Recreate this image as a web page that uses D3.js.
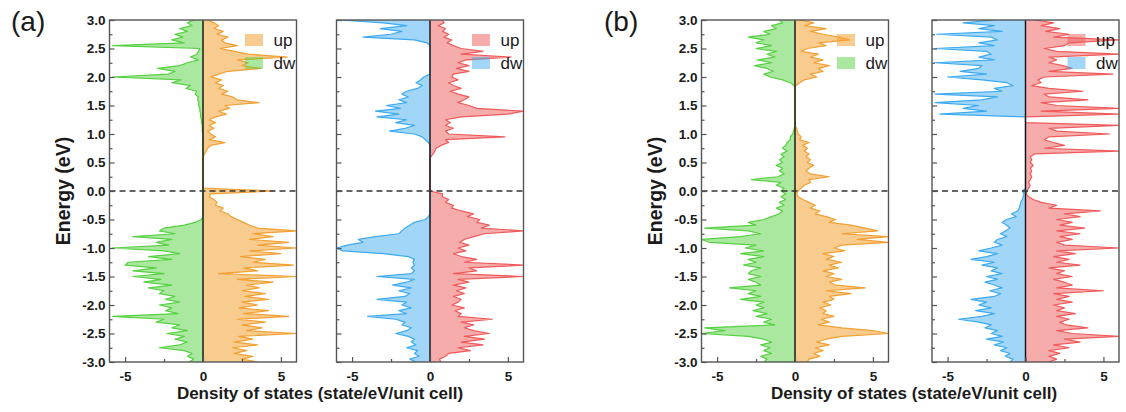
<!DOCTYPE html>
<html>
<head>
<meta charset="utf-8">
<script src="https://cdn.jsdelivr.net/npm/d3@7"></script>
<style>
  body { margin: 0; background: #fff; }
  svg { display: block; }
  text { font-family: "Liberation Sans", Arial, sans-serif; fill: #1a1a1a; }
</style>
</head>
<body>
<svg id="chart" width="1126" height="412"></svg>
<script>
// Energy grid (eV), top of the window to the bottom, 0.05 eV step
const energy = d3.range(0, 121).map(i => +(3 - 0.05 * i).toFixed(2));

// (a) left panel: spin up / spin down DOS
const aLeftUp = [
  0.3,0.7,1.0,0.7,1.3,0.9,1.6,1.2,1.4,2.2,
  1.1,2.0,2.9,5.4,2.2,2.9,2.5,3.7,1.6,1.0,
  0.5,1.2,0.8,1.3,1.0,1.6,1.2,1.9,2.2,3.6,
  1.4,1.7,1.0,1.5,0.8,0.4,0.8,0.4,0.7,0.3,
  0.5,0.8,0.4,1.4,0.5,0.3,0.2,0.1,0,0,
  0,0,0,0,0,0,0,0,0,0,
  4.5,0.5,0.4,0.7,0.9,0.8,1.3,1.1,1.6,1.8,
  2.2,2.6,3.0,3.5,6.0,3.2,4.5,3.0,5.5,3.5,
  6.0,3.0,5.0,2.4,4.0,3.2,5.8,2.6,3.5,1.0,
  6.0,2.2,4.5,2.8,3.6,2.5,4.0,2.7,4.2,2.5,
  3.5,2.3,4.2,2.6,5.5,2.2,4.0,2.5,3.8,2.8,
  6.0,2.3,3.2,2.0,3.5,1.9,2.8,2.0,3.2,2.5,3.5
];
const aLeftDw = [
  -0.6,-1.0,-0.7,-1.5,-1.0,-1.8,-1.3,-2.0,-1.2,-5.8,
  -0.2,-0.3,-0.4,-0.8,-0.3,-1.0,-1.5,-2.9,-1.8,-2.2,
  -5.8,-1.4,-2.0,-0.8,-1.1,-0.4,-0.5,-0.3,-0.35,-0.25,
  -0.3,-0.2,-0.2,-0.15,-0.15,-0.1,-0.1,-0.05,-0.05,-0.05,
  0,0,0,0,0,0,0,0,0,0,
  0,0,0,0,0,0,0,0,0,0,
  0,0,0,0,0,0,0,0,0,0,
  -0.1,-0.5,-1.2,-2.5,-2.8,-1.8,-4.5,-2.0,-3.0,-2.2,
  -5.8,-2.5,-1.5,-3.5,-2.0,-4.8,-5.0,-3.0,-4.5,-2.5,
  -4.5,-2.7,-3.8,-2.0,-3.5,-2.5,-2.8,-1.8,-2.4,-1.5,
  -2.8,-2.0,-2.4,-1.6,-5.8,-2.5,-3.0,-1.5,-2.0,-1.0,
  -2.3,-1.2,-1.8,-1.0,-1.5,-2.8,-1.2,-0.7,-1.0,-0.6,-0.9
];

// (a) right panel
const aRightUp = [
  0.8,0.9,0.5,1.0,0.8,1.2,0.9,1.4,1.1,1.5,
  2.0,3.4,2.0,5.2,2.3,1.8,2.5,1.7,2.5,1.5,
  1.4,1.8,1.2,1.5,2.0,1.3,1.8,2.5,2.2,1.8,
  2.5,3.0,6.0,5.0,2.0,1.0,1.3,1.0,1.5,1.0,
  1.2,4.8,1.0,1.2,0.7,0.4,0.3,0.2,0.05,0,
  0,0,0,0,0,0,0,0,0,0,
  0,0.8,0.8,1.2,1.0,1.5,1.4,2.0,2.8,2.4,
  3.2,3.0,3.8,3.3,6.0,3.5,2.8,2.2,1.9,2.5,
  1.8,2.3,1.5,2.0,3.0,2.2,6.0,2.5,3.0,1.5,
  6.0,1.8,2.5,1.5,2.3,1.7,2.2,1.5,2.0,1.8,
  1.4,2.2,1.6,2.0,1.8,4.0,2.0,2.8,2.2,2.8,
  3.8,2.2,3.5,2.0,3.4,1.8,2.6,1.2,1.0,0.6,0.7
];
const aRightDw = [
  -5.8,-3.0,-1.5,-3.2,-1.8,-2.5,-4.3,-1.0,-0.2,0,
  0,0,0,0,0,0,0,0,0,0,
  -0.4,-0.6,-0.9,-0.5,-0.8,-1.5,-1.8,-1.4,-2.0,-1.5,
  -2.8,-1.9,-3.5,-2.0,-3.4,-1.5,-2.2,-1.0,-1.6,-2.6,
  -1.0,-0.5,-0.3,-0.1,0,0,0,0,0,0,
  0,0,0,0,0,0,0,0,0,0,
  0,0,0,0,0,0,0,0,0,-0.1,
  -0.3,-1.0,-1.3,-1.6,-1.8,-2.0,-3.5,-4.6,-4.3,-5.3,
  -6.0,-5.6,-3.0,-1.4,-1.0,-1.1,-1.0,-1.2,-1.0,-1.2,
  -3.4,-1.0,-1.5,-2.4,-1.2,-2.0,-1.3,-1.6,-3.4,-1.5,
  -1.8,-1.2,-2.0,-1.5,-4.0,-2.2,-1.6,-1.8,-1.2,-1.5,
  -2.2,-1.4,-1.0,-1.2,-0.9,-1.5,-0.8,-1.0,-0.7,-1.3,-0.9
];

// (b) left panel
const bLeftUp = [
  0.3,1.2,0.6,2.0,1.0,1.8,2.8,3.5,1.5,2.0,
  0.8,0.4,1.5,1.0,1.8,1.2,2.2,1.5,1.8,1.0,
  1.4,0.6,0.3,0.05,0,0,0,0,0,0,
  0,0,0,0,0,0,0,0,0.1,0.15,
  0.2,0.4,0.3,0.9,0.5,0.8,0.6,0.9,0.7,1.0,
  0.8,1.2,0.9,0.7,1.0,2.2,0.9,1.0,0.6,0.4,
  0.2,0.1,0.2,0.5,0.9,1.3,1.0,1.6,1.3,2.0,
  2.6,2.2,3.6,4.5,5.3,3.0,6.0,4.0,6.0,3.0,
  2.5,3.2,1.8,2.5,2.0,3.0,2.2,2.8,1.8,2.5,
  2.0,3.0,2.2,2.6,4.5,2.0,3.6,2.2,2.5,1.8,
  2.3,1.6,2.0,1.8,2.5,1.7,2.2,1.5,3.0,5.0,
  6.0,3.0,2.0,1.4,2.2,1.3,1.8,1.2,1.6,0.9,0.8
];
const bLeftDw = [
  -1.0,-0.8,-1.5,-1.2,-2.0,-1.6,-3.0,-2.0,-2.5,-1.5,
  -2.5,-1.2,-1.8,-1.3,-2.4,-1.5,-2.6,-1.8,-1.4,-2.0,
  -1.6,-0.8,-0.3,-0.05,0,0,0,0,0,0,
  0,0,0,0,0,0,0,0,-0.05,-0.1,
  -0.15,-0.3,-0.3,-0.5,-0.6,-0.8,-0.5,-0.9,-0.7,-1.0,
  -0.8,-1.2,-0.8,-1.0,-0.7,-1.1,-2.8,-0.9,-1.2,-0.7,
  -0.9,-0.6,-0.9,-0.6,-1.0,-0.7,-1.2,-0.8,-1.0,-1.5,
  -2.0,-3.0,-2.5,-5.8,-3.0,-2.2,-3.5,-6.0,-5.5,-2.5,
  -3.2,-2.0,-3.5,-2.0,-3.0,-2.5,-3.3,-2.2,-2.8,-3.0,
  -2.2,-3.0,-2.5,-2.2,-4.2,-2.5,-3.0,-2.2,-3.5,-2.0,
  -2.5,-2.0,-2.7,-1.8,-2.5,-1.5,-2.0,-1.3,-5.8,-4.5,
  -6.0,-3.0,-2.0,-1.5,-2.2,-1.6,-2.0,-1.5,-2.2,-1.8,-2.0
];

// (b) right panel
const bRightUp = [
  0.6,1.8,1.0,2.2,1.3,2.8,1.8,6.0,2.8,2.5,
  1.2,2.0,6.0,1.5,2.0,1.5,2.4,3.0,1.5,5.6,
  1.2,0.8,1.0,0.4,1.5,3.7,1.2,1.5,4.0,1.0,
  2.0,6.0,1.0,6.0,0,0,0,6.0,1.5,2.0,
  5.4,1.5,1.2,1.8,2.5,1.2,6.0,0.6,0.3,0.4,
  0.3,0.5,0.3,0.4,0.3,0.4,0.3,0.2,0.3,0.2,
  0.1,0.05,0.2,0.5,1.0,2.0,1.5,4.8,2.5,3.5,
  2.0,3.0,2.2,3.8,2.0,3.5,2.2,3.0,2.0,2.5,
  6.0,2.0,3.2,1.8,2.8,2.0,3.5,1.5,2.5,2.0,
  3.0,1.8,2.5,3.0,2.0,5.0,1.8,2.8,2.0,3.0,
  1.8,2.5,2.0,3.2,2.0,2.8,2.2,2.6,4.0,2.0,
  3.0,6.0,2.5,3.5,1.8,2.8,1.5,2.2,1.5,2.0,1.5
];
const bRightDw = [
  -2.0,-4.0,-2.0,-3.0,-1.5,-5.7,-2.2,-1.8,-3.0,-2.0,
  -5.8,-2.5,-2.2,-3.0,-2.0,-5.8,-2.8,-3.0,-4.2,-2.5,
  -5.0,-2.8,-1.2,-0.8,-2.0,-1.5,-5.8,-1.8,-2.8,-5.8,
  -3.0,-4.0,-2.5,-5.5,0,0,0,0,0,0,
  0,0,0,0,0,0,0,0,0,0,
  0,0,0,0,0,0,0,0,0,0,
  -0.2,-0.1,-0.15,-0.2,-0.3,-0.35,-0.4,-0.5,-0.9,-0.6,
  -1.2,-1.5,-1.2,-1.0,-1.3,-1.6,-1.2,-1.8,-2.0,-1.5,
  -2.2,-3.0,-1.8,-2.5,-3.5,-2.0,-2.8,-1.8,-2.2,-1.5,
  -2.5,-1.8,-2.6,-2.0,-1.5,-2.3,-1.6,-2.0,-3.5,-2.5,
  -3.0,-2.2,-3.2,-2.0,-2.8,-4.3,-3.0,-2.2,-2.6,-1.8,
  -2.2,-1.5,-2.5,-1.4,-2.0,-1.2,-1.6,-1.0,-1.3,-0.8,-1.0
];

// Axis ticks and labels
const yTicks = [-3, -2.5, -2, -1.5, -1, -0.5, 0, 0.5, 1, 1.5, 2, 2.5, 3];
const yMinorTicks = [-2.75, -2.25, -1.75, -1.25, -0.75, -0.25, 0.25, 0.75, 1.25, 1.75, 2.25, 2.75];
const xTicks = [-5, 0, 5];
const xMinorTicks = [-2.5, 2.5];
const legendLabels = ["up", "dw"];
const panelTags = ["(a)", "(b)"];
const yTitle = "Energy (eV)";
const xTitle = "Density of states (state/eV/unit cell)";

const svg = d3.select("#chart");
const plotTop = 20, plotBottom = 362, plotWidth = 187;
const y = d3.scaleLinear().domain([-3, 3]).range([plotBottom, plotTop]);

const orange = { line: "#f3a032", fill: "rgba(243,160,50,0.55)" };
const green  = { line: "#55d141", fill: "rgba(85,209,65,0.5)" };
const red    = { line: "#f05a5a", fill: "rgba(240,90,90,0.5)" };
const blue   = { line: "#3caaf0", fill: "rgba(60,170,240,0.48)" };

const panels = [
  { left: 109.5, up: aLeftUp,  dw: aLeftDw,  upC: orange, dwC: green, labels: true },
  { left: 336.5, up: aRightUp, dw: aRightDw, upC: red,    dwC: blue,  labels: false },
  { left: 701.5, up: bLeftUp,  dw: bLeftDw,  upC: orange, dwC: green, labels: true },
  { left: 932,   up: bRightUp, dw: bRightDw, upC: red,    dwC: blue,  labels: false }
];

const defs = svg.append("defs");

panels.forEach((p, k) => {
  const x = d3.scaleLinear().domain([-6, 6]).range([p.left, p.left + plotWidth]);
  const g = svg.append("g");

  defs.append("clipPath").attr("id", "clip" + k)
    .append("rect")
    .attr("x", p.left).attr("y", plotTop)
    .attr("width", plotWidth).attr("height", plotBottom - plotTop);

  const data = g.append("g").attr("clip-path", `url(#clip${k})`);

  const area = d3.area()
    .y((d, i) => y(energy[i]))
    .x0(x(0))
    .x1(d => x(d));
  const line = d3.line()
    .y((d, i) => y(energy[i]))
    .x(d => x(d));

  [[p.dw, p.dwC], [p.up, p.upC]].forEach(([vals, c]) => {
    data.append("path").attr("d", area(vals)).attr("fill", c.fill).attr("stroke", "none");
  });
  [[p.dw, p.dwC], [p.up, p.upC]].forEach(([vals, c]) => {
    data.append("path").attr("d", line(vals)).attr("fill", "none")
      .attr("stroke", c.line).attr("stroke-width", 1.2).attr("stroke-linejoin", "round");
  });

  // zero-DOS axis
  g.append("line")
    .attr("x1", x(0)).attr("x2", x(0))
    .attr("y1", plotTop).attr("y2", plotBottom)
    .attr("stroke", "#111").attr("stroke-width", 1.4);

  // Fermi level
  g.append("line")
    .attr("x1", p.left).attr("x2", p.left + plotWidth)
    .attr("y1", y(0)).attr("y2", y(0))
    .attr("stroke", "#333").attr("stroke-width", 1.4)
    .attr("stroke-dasharray", "6,4");

  // y axis: inward ticks
  const yAxis = d3.axisLeft(y).tickValues(yTicks).tickSize(-5).tickPadding(4)
    .tickFormat(d => p.labels ? d.toFixed(1) : "");
  const ya = g.append("g").attr("transform", `translate(${p.left},0)`).call(yAxis);
  const yMinor = d3.axisLeft(y).tickValues(yMinorTicks).tickSize(-3).tickFormat("");
  const ym = g.append("g").attr("transform", `translate(${p.left},0)`).call(yMinor);

  // x axis: inward ticks
  const xAxis = d3.axisBottom(x).tickValues(xTicks).tickSize(-5).tickPadding(9)
    .tickFormat(d => String(d));
  const xa = g.append("g").attr("transform", `translate(0,${plotBottom})`).call(xAxis);
  const xMinor = d3.axisBottom(x).tickValues(xMinorTicks).tickSize(-3).tickFormat("");
  const xm = g.append("g").attr("transform", `translate(0,${plotBottom})`).call(xMinor);

  [ya, ym, xa, xm].forEach(a => {
    a.select(".domain").remove();
    a.selectAll(".tick line").attr("stroke", "#555").attr("stroke-width", 1.2);
    a.selectAll("text")
      .attr("font-size", 13.5).attr("font-weight", "bold")
      .attr("font-family", '"Liberation Sans", Arial, sans-serif')
      .attr("fill", "#1a1a1a");
  });

  // frame
  g.append("rect")
    .attr("x", p.left).attr("y", plotTop)
    .attr("width", plotWidth).attr("height", plotBottom - plotTop)
    .attr("fill", "none").attr("stroke", "#555").attr("stroke-width", 1.4);

  // legend
  const leg = g.append("g");
  [p.upC, p.dwC].forEach((c, j) => {
    leg.append("rect")
      .attr("x", p.left + 135.5).attr("y", 34 + j * 23)
      .attr("width", 18).attr("height", 12)
      .attr("fill", c.fill);
    leg.append("text")
      .attr("x", p.left + 164).attr("y", 46 + j * 23)
      .attr("font-size", 17)
      .text(legendLabels[j]);
  });
});

// axis titles and panel tags, one per pair of panels
const groups = [
  { tagX: 11, titleX: 63, xTitleX: 320 },
  { tagX: 604, titleX: 655, xTitleX: 914 }
];
groups.forEach((gp, k) => {
  svg.append("text")
    .attr("x", gp.tagX).attr("y", 31)
    .attr("font-size", 28)
    .text(panelTags[k]);
  svg.append("text")
    .attr("transform", `translate(${gp.titleX},${(plotTop + plotBottom) / 2}) rotate(-90)`)
    .attr("text-anchor", "middle").attr("dy", "0.35em")
    .attr("font-size", 19.5).attr("font-weight", "bold")
    .text(yTitle);
  svg.append("text")
    .attr("x", gp.xTitleX).attr("y", 399)
    .attr("text-anchor", "middle")
    .attr("font-size", 17).attr("font-weight", "bold")
    .text(xTitle);
});
</script>
</body>
</html>
